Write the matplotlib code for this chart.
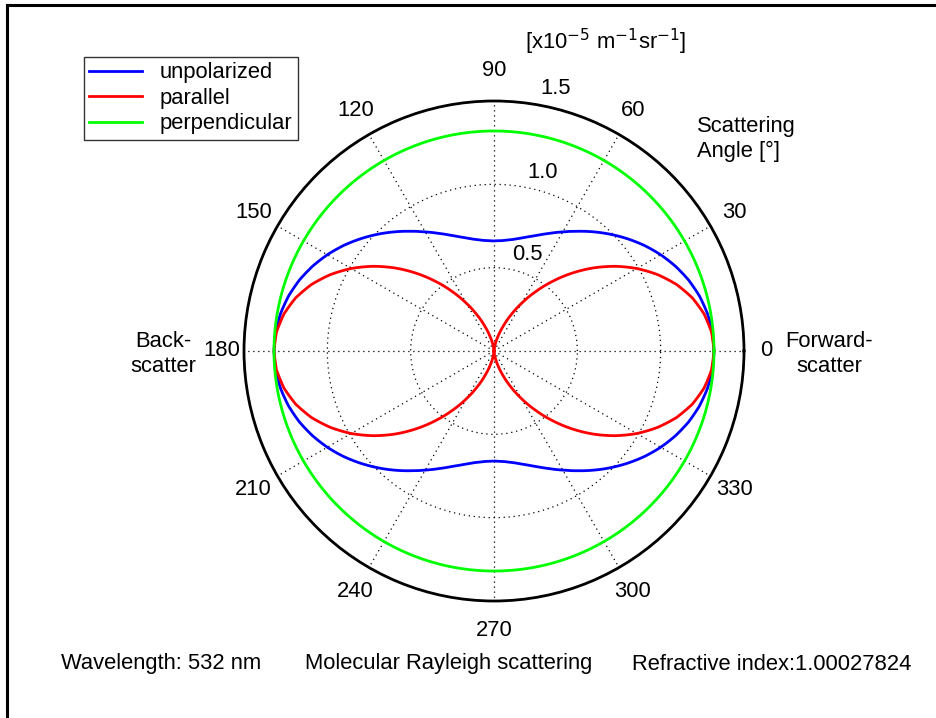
import numpy as np
import matplotlib
matplotlib.use("Agg")
import matplotlib.pyplot as plt
from matplotlib.lines import Line2D

plt.rcParams['font.family'] = ['Liberation Sans', 'DejaVu Sans']

# Scattering angle (deg) over the first quadrant; the pattern is symmetric
angle_q = [0, 5, 10, 15, 20, 25, 30, 35, 40, 45, 50, 55, 60, 65, 70, 75, 80, 85, 90]
# volume scattering coefficient [x1e-5 m^-1 sr^-1]
parallel_q = [1.320, 1.310, 1.280, 1.232, 1.166, 1.084, 0.990, 0.886, 0.775, 0.660,
              0.545, 0.434, 0.330, 0.236, 0.154, 0.088, 0.040, 0.010, 0.000]
unpolarized_q = [1.320, 1.315, 1.300, 1.276, 1.243, 1.202, 1.155, 1.103, 1.047, 0.990,
                 0.933, 0.877, 0.825, 0.778, 0.737, 0.704, 0.680, 0.665, 0.660]
perpendicular_q = [1.32] * 19

series_names = ["unpolarized", "parallel", "perpendicular"]
series_colors = ["#0000ff", "#ff0000", "#00ff00"]
angle_ticks = list(range(0, 360, 30))
r_ticks = [0.5, 1.0, 1.5]
r_tick_labels = ["0.5", "1.0", "1.5"]
footer_parts = ["Wavelength: 532 nm", "Molecular Rayleigh scattering",
                "Refractive index:1.00027824"]

FS = 15.8


def full_circle(q):
    # mirror quadrant 0-90 onto 90-180, then repeat for 180-360
    q = list(q)
    half = q + q[-2::-1]
    return np.array(half + half[1:])


ang = np.array(angle_q, dtype=float)
ang_half = np.concatenate([ang, 180 - ang[-2::-1]])
ang_full = np.deg2rad(np.concatenate([ang_half, 180 + ang_half[1:]]))

W, H = 936, 718
fig = plt.figure(figsize=(W / 100, H / 100), dpi=100)
fig.patch.set_facecolor("white")

cx, cy, R = 494, 351, 250
ax = fig.add_axes([(cx - R) / W, 1 - (cy + R) / H, 2 * R / W, 2 * R / H], projection="polar")
ax.set_ylim(0, 1.5)
ax.set_rticks(r_ticks)
ax.set_yticklabels([])
ax.set_thetagrids(angle_ticks, labels=[""] * len(angle_ticks))
ax.grid(True, color="black", linestyle=(0, (1, 3)), linewidth=0.9)
ax.spines["polar"].set_color("black")
ax.spines["polar"].set_linewidth(2.0)
ax.tick_params(length=0)

for name, q, c in zip(series_names, [unpolarized_q, parallel_q, perpendicular_q], series_colors):
    ln, = ax.plot(ang_full, full_circle(q), color=c, linewidth=2.0, label=name)
    # draw segments as curves in polar space
    ln.get_path()._interpolation_steps = 16

# angle labels around the rim
for a in angle_ticks:
    if a in (90, 270):
        f = 1.12
    elif a in (0, 180):
        f = 1.09
    else:
        f = 1.11
    ax.text(np.deg2rad(a), 1.5 * f, str(a), ha="center", va="center",
            fontsize=FS, clip_on=False)

# radial labels
r_label_pos = [(71, 0.61), (74.7, 1.11), (76.7, 1.62)]
for (a, r), t in zip(r_label_pos, r_tick_labels):
    ax.text(np.deg2rad(a), r, t, ha="center", va="center", fontsize=FS, clip_on=False)

fig.text(606 / W, 1 - 42 / H, r"[x10$^{-5}$ m$^{-1}$sr$^{-1}$]", ha="center", va="center",
         fontsize=FS)
fig.text(697 / W, 1 - 139 / H, "Scattering\nAngle [°]", ha="left", va="center",
         fontsize=FS, linespacing=1.2)
fig.text(163 / W, 1 - 354 / H, "Back-\nscatter", ha="center", va="center",
         fontsize=FS, linespacing=1.2)
fig.text(829 / W, 1 - 354 / H, "Forward-\nscatter", ha="center", va="center",
         fontsize=FS, linespacing=1.2)

# footer line, three fields
for x, t in zip([161, 449, 772], footer_parts):
    fig.text(x / W, 1 - 664 / H, t, ha="center", va="center", fontsize=FS)

leg = fig.legend(loc="upper left", bbox_to_anchor=(84 / W, 1 - 57 / H), fontsize=FS,
                 frameon=True, fancybox=False, edgecolor="black", borderpad=0.25,
                 handlelength=2.4, handletextpad=0.8, labelspacing=0.2, borderaxespad=0)
leg.get_frame().set_linewidth(1.0)

# outer frame (top and left edges)
fig.add_artist(Line2D([7.5 / W, 1.0], [1 - 5 / H, 1 - 5 / H], color="black", linewidth=2.2))
fig.add_artist(Line2D([7.5 / W, 7.5 / W], [1 - 5 / H, 0.0], color="black", linewidth=2.2))

fig.savefig("out.png", dpi=100)
